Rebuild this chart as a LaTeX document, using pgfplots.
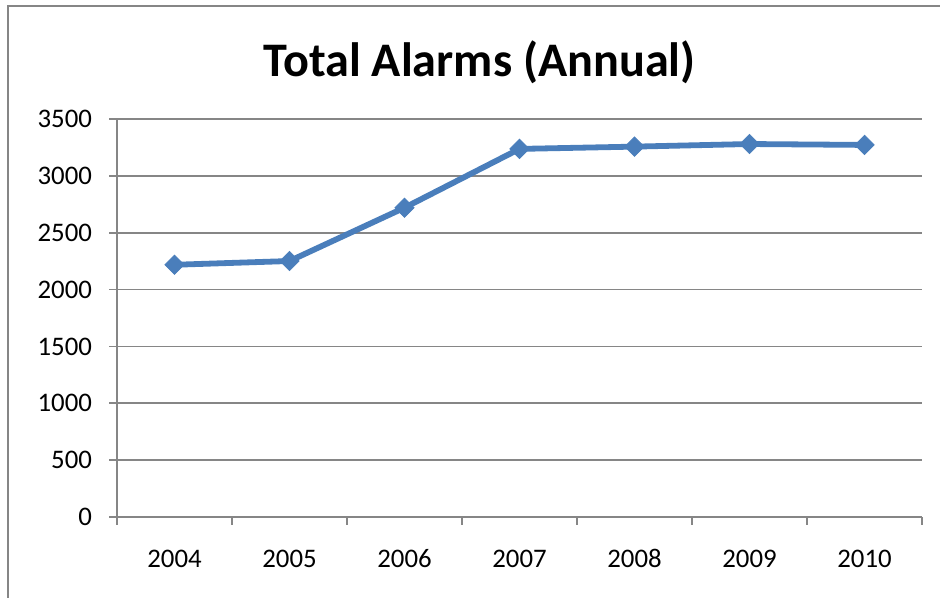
\documentclass[border=0pt]{standalone}
\usepackage{fontspec}
\setmainfont{Carlito}
\usepackage{pgfplots}
\pgfplotsset{compat=1.18}
\definecolor{gridgray}{HTML}{868686}
\definecolor{lineblue}{HTML}{4A7EBB}
\begin{document}
\begin{tikzpicture}
\useasboundingbox (0,0) rectangle (470pt,299pt);
% chart frame (only top and left edges fall inside the page)
\draw[gridgray, line width=0.7pt] (4pt,-2pt) -- (4pt,296pt) -- (472pt,296pt);
\node[font=\fontsize{24.1}{29}\selectfont\bfseries, anchor=base, inner sep=0pt]
  at (239.75pt,260.65pt) {Total Alarms (Annual)};
\begin{axis}[
  at={(58.5pt,40.5pt)}, anchor=south west,
  scale only axis, width=402.5pt, height=199pt,
  xmin=-0.5, xmax=6.5, ymin=0, ymax=3500,
  ytick={0,500,...,3500},
  xtick={-0.5,0.5,...,6.5}, xticklabels={},
  extra x ticks={0,1,2,3,4,5,6},
  extra x tick labels={2004,2005,2006,2007,2008,2009,2010},
  extra x tick style={tick style={draw=none}},
  axis x line*=bottom, axis y line*=left,
  axis line style={gridgray, line width=0.8pt, -},
  ymajorgrids, grid style={gridgray, line width=0.8pt},
  tick align=outside, major tick length=4pt,
  tick style={gridgray, line width=0.8pt},
  tick label style={font=\fontsize{13.4}{15}\selectfont, text=black},
  yticklabel style={xshift=-5pt},
  xticklabel style={anchor=base, yshift=-21.5pt, text height=0pt, text depth=0pt},
  /pgf/number format/assume math mode=true,
  /pgf/number format/1000 sep={},
  clip=false,
]
\addplot[lineblue, line width=2.9pt, mark=square*, mark size=3.4pt,
  mark options={rotate=45, line width=0.4pt, fill=lineblue}]
  coordinates {(0,2218) (1,2251) (2,2720) (3,3237) (4,3257) (5,3280) (6,3272)};
\end{axis}
\end{tikzpicture}
\end{document}
